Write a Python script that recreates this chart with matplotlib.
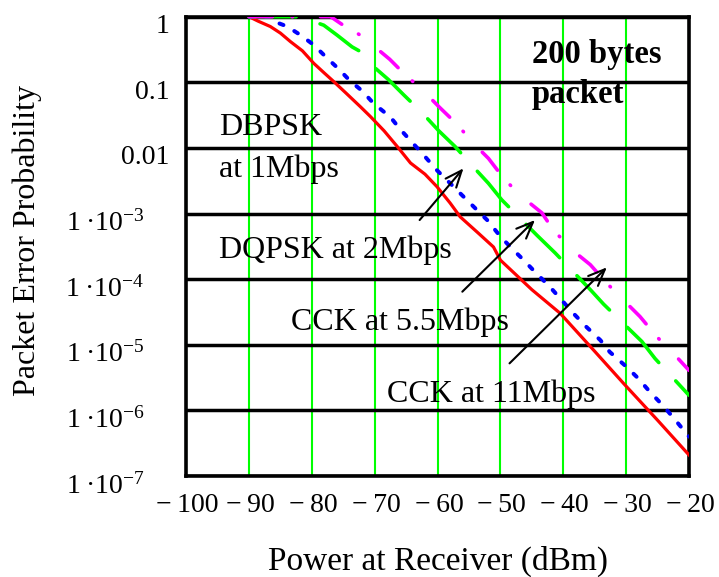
import numpy as np
import matplotlib
matplotlib.use("Agg")
import matplotlib.pyplot as plt
from matplotlib.ticker import NullLocator
from matplotlib.transforms import ScaledTranslation

plt.rcParams["font.family"] = ["Liberation Serif", "DejaVu Serif"]
plt.rcParams["mathtext.fontset"] = "custom"
plt.rcParams["mathtext.rm"] = "Liberation Serif"
plt.rcParams["mathtext.it"] = "Liberation Serif:italic"
plt.rcParams["mathtext.bf"] = "Liberation Serif:bold"
plt.rcParams["lines.scale_dashes"] = False

# ---- packet error probability (log10) vs received power (dBm), 200-byte packets ----
power_dbpsk = [-90, -88.5, -86.6, -85, -83.4, -81.5, -79.7, -78, -76.5, -74.5,
               -72.3, -70.7, -68.5, -66.4, -64.3, -62, -60.1, -58, -56.4, -53.5,
               -51.1, -50.0, -45, -40.5, -35, -30.4, -25, -20]
log_per_dbpsk = [0, -0.07, -0.15, -0.25, -0.38, -0.52, -0.71, -0.86, -0.99, -1.17,
                 -1.37, -1.52, -1.74, -1.98, -2.23, -2.40, -2.59, -2.84, -3.05, -3.30,
                 -3.51, -3.71, -4.16, -4.52, -5.10, -5.59, -6.15, -6.68]

power_dqpsk = [-90, -86.5, -85.8, -83.9, -81.8, -79.7, -77.8, -75.7, -73.9, -72.0,
               -70.2, -67.5, -65.9, -64.1, -62.2, -60.1, -58.2, -55.9, -54.0, -52.1,
               -50.0, -48.2, -46.3, -44.5, -42.1, -38.4, -36.3, -34.1, -32.6, -29.9,
               -28.1, -26.2, -24.1, -22.5, -20.0]
log_per_dqpsk = [0, 0, -0.08, -0.15, -0.28, -0.43, -0.61, -0.80, -0.98, -1.13,
                 -1.32, -1.53, -1.72, -1.91, -2.11, -2.34, -2.52, -2.74, -2.92, -3.10,
                 -3.35, -3.53, -3.71, -3.89, -4.12, -4.52, -4.73, -4.93, -5.11, -5.34,
                 -5.51, -5.72, -5.93, -6.11, -6.40]

power_cck55 = [-90, -82.5, -81.3, -78.1, -76.0, -73.6, -72.3, -70.2, -67.8, -65.4,
               -62.5, -59.8, -57.2, -54.5, -51.9, -49.8, -47, -44.2, -41.3, -38.5,
               -35.7, -33.6, -30.5, -27.5, -25.4, -22.7, -20.0]
log_per_cck55 = [0, 0, -0.02, -0.13, -0.28, -0.46, -0.53, -0.76, -0.96, -1.19,
                 -1.46, -1.74, -1.98, -2.27, -2.54, -2.79, -3.06, -3.33, -3.60, -3.88,
                 -4.16, -4.38, -4.67, -4.95, -5.21, -5.49, -5.77]

power_cck11 = [-90, -77, -74.1, -73.1, -71.0, -69.1, -67.6, -65.1, -62.7, -59.7,
               -56.9, -54.3, -51.9, -49.5, -46.9, -43.4, -41.6, -38.4, -35.7, -33.2,
               -30.2, -27.8, -25.1, -22.5, -20.0]
log_per_cck11 = [0, 0, -0.19, -0.23, -0.37, -0.53, -0.65, -0.89, -1.09, -1.38,
                 -1.64, -1.93, -2.16, -2.46, -2.72, -2.99, -3.25, -3.57, -3.78, -4.05,
                 -4.34, -4.57, -4.88, -5.13, -5.39]

x_ticks = [-100, -90, -80, -70, -60, -50, -40, -30, -20]
x_tick_labels = ["\u2212\u2009100", "\u2212\u200990", "\u2212\u200980", "\u2212\u200970",
                 "\u2212\u200960", "\u2212\u200950", "\u2212\u200940", "\u2212\u200930",
                 "\u2212\u200920"]
y_ticks = [1, 0.1, 0.01, 1e-3, 1e-4, 1e-5, 1e-6, 1e-7]
y_tick_labels = ["1", "0.1", "0.01",
                 "1\u2009\u00b710$^{-3}$", "1\u2009\u00b710$^{-4}$",
                 "1\u2009\u00b710$^{-5}$", "1\u2009\u00b710$^{-6}$",
                 "1\u2009\u00b710$^{-7}$"]

fig = plt.figure(figsize=(7.19, 5.77), dpi=100)
ax = fig.add_axes([0.2588, 0.1750, 0.6995, 0.7961])
ax.set_xlim(-100, -20)
ax.set_yscale("log")
ax.set_ylim(1e-7, 1)

# grid: thin green verticals, heavy black decade lines
ax.set_axisbelow(True)
ax.xaxis.grid(True, color="#00ff00", lw=1.5)
ax.yaxis.grid(True, color="black", lw=2.5)
for s in ax.spines.values():
    s.set_linewidth(2.6)
    s.set_color("black")

ax.set_xticks(x_ticks)
ax.set_xticklabels(x_tick_labels)
ax.set_yticks(y_ticks)
ax.set_yticklabels(y_tick_labels)
ax.yaxis.set_minor_locator(NullLocator())
ax.tick_params(length=0, labelsize=20)
ax.tick_params(axis="x", pad=12)
ax.tick_params(axis="y", pad=12)

for lab in ax.get_yticklabels():
    dx = -18 if "10" in lab.get_text() else 0
    lab.set_transform(lab.get_transform() +
                      ScaledTranslation(dx / 72, -5 / 72, fig.dpi_scale_trans))
for lab in ax.get_xticklabels():
    lab.set_transform(lab.get_transform() +
                      ScaledTranslation(1 / 72, 0, fig.dpi_scale_trans))

def per(v):
    return 10.0 ** np.asarray(v)

ax.plot(power_dbpsk, per(log_per_dbpsk), color="#ff0000", lw=2.3,
        solid_joinstyle="round", zorder=3)
ax.plot(power_dqpsk, per(log_per_dqpsk), color="#0000ff", lw=2.9,
        dashes=(3, 9), dash_capstyle="round", zorder=3)
ax.plot(power_cck55, per(log_per_cck55), color="#00ff00", lw=2.6,
        dashes=(34, 18), dash_capstyle="round", zorder=3)
ax.plot(power_cck11, per(log_per_cck11), color="#ff00ff", lw=2.6,
        dashes=(17, 14, 0.5, 20), dash_capstyle="round", zorder=3)

# annotations
ax.text(-45.0, 10 ** -0.71, "200 bytes", fontsize=23.5, fontweight="bold",
        ha="left", va="baseline")
ax.text(-45.0, 10 ** -1.315, "packet", fontsize=23.5, fontweight="bold",
        ha="left", va="baseline")
ax.text(-94.77, 10 ** -1.803, "DBPSK", fontsize=23, ha="left", va="baseline")
ax.text(-94.77, 10 ** -2.443, "at 1Mbps", fontsize=23, ha="left", va="baseline")
ax.text(-94.77, 10 ** -3.682, "DQPSK at 2Mbps", fontsize=23, ha="left", va="baseline")
ax.text(-83.31, 10 ** -4.775, "CCK at 5.5Mbps", fontsize=23, ha="left", va="baseline")
ax.text(-68.04, 10 ** -5.868, "CCK at 11Mbps", fontsize=23, ha="left", va="baseline")

arrow_kw = dict(arrowstyle="->,head_length=1.2,head_width=0.5", color="black",
                lw=1.5, shrinkA=0, shrinkB=0)
ax.annotate("", xy=(-55.88, 10 ** -2.311), xytext=(-62.85, 10 ** -3.099),
            arrowprops=arrow_kw)
ax.annotate("", xy=(-44.50, 10 ** -3.099), xytext=(-56.06, 10 ** -4.191),
            arrowprops=arrow_kw)
ax.annotate("", xy=(-33.07, 10 ** -3.820), xytext=(-48.55, 10 ** -5.283),
            arrowprops=arrow_kw)

fig.text(437.5 / 719, 1 - 570 / 577, "Power at Receiver (dBm)", fontsize=24,
         ha="center", va="baseline")
fig.text(27 / 719, 1 - 241 / 577, "Packet Error Probability", fontsize=23,
         rotation=90, ha="center", va="center")

fig.savefig("out.png", dpi=100)
